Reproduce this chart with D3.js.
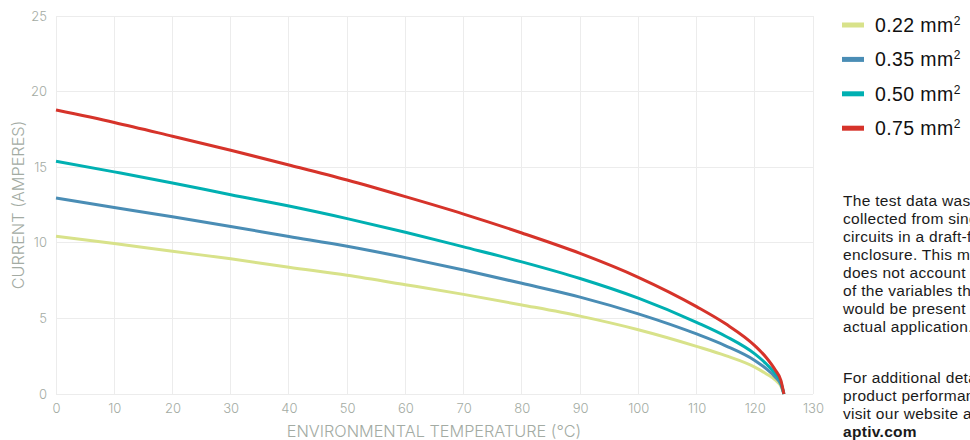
<!DOCTYPE html>
<html>
<head>
<meta charset="utf-8">
<script src="https://cdn.jsdelivr.net/npm/d3@7/dist/d3.min.js"></script>
<style>
  html, body { margin: 0; padding: 0; background: #fff; overflow: hidden; }
  svg { display: block; }
</style>
</head>
<body>
<svg id="chart" width="970" height="440"></svg>
<script>
// ---- data ----
const temps = [0, 10, 20, 30, 40, 50, 60, 70, 80, 90, 100, 110, 115, 120, 122, 123.5, 124.5, 125];
const series = ["0.22 mm", "0.35 mm", "0.50 mm", "0.75 mm"];
const current022 = [10.44, 9.95, 9.44, 8.94, 8.38, 7.85, 7.23, 6.59, 5.89, 5.15, 4.25, 3.15, 2.54, 1.78, 1.33, 0.93, 0.5, 0];
const current035 = [12.96, 12.34, 11.72, 11.08, 10.42, 9.77, 9.02, 8.2, 7.32, 6.41, 5.3, 3.97, 3.19, 2.22, 1.66, 1.13, 0.62, 0];
const current050 = [15.4, 14.69, 13.96, 13.18, 12.43, 11.6, 10.7, 9.73, 8.74, 7.64, 6.34, 4.74, 3.82, 2.65, 1.98, 1.35, 0.74, 0];
const current075 = [18.78, 17.96, 17.05, 16.12, 15.15, 14.15, 13.05, 11.9, 10.65, 9.3, 7.72, 5.78, 4.64, 3.2, 2.4, 1.6, 0.88, 0];
const xTicks = [0, 10, 20, 30, 40, 50, 60, 70, 80, 90, 100, 110, 120, 130];
const yTicks = [0, 5, 10, 15, 20, 25];
const colors = ["#d8e28a", "#4a8db5", "#00b0b2", "#d6332a"];
const noteLines1 = ["The test data was", "collected from single", "circuits in a draft-free", "enclosure. This model", "does not account for all", "of the variables that", "would be present in an", "actual application."];
const noteLines2 = ["For additional details on", "product performance,", "visit our website at"];
const noteLink = "aptiv.com";

const allSeries = [current022, current035, current050, current075];

// ---- layout ----
const svg = d3.select("#chart");
const x = d3.scaleLinear().domain([0, 130]).range([56, 813]);
const y = d3.scaleLinear().domain([0, 25]).range([394, 16]);
const tickColor = "#a3aba3";
const font = "Inter, 'Liberation Sans', sans-serif";
const textFont = "'Liberation Sans', Arial, sans-serif";

// grid
svg.append("g").selectAll("line").data(xTicks).join("line")
  .attr("x1", d => x(d)).attr("x2", d => x(d))
  .attr("y1", y(0)).attr("y2", y(25))
  .attr("stroke", "#ececec").attr("stroke-width", 1).attr("shape-rendering", "crispEdges");
svg.append("g").selectAll("line").data(yTicks).join("line")
  .attr("x1", x(0)).attr("x2", x(130))
  .attr("y1", d => y(d)).attr("y2", d => y(d))
  .attr("stroke", "#ececec").attr("stroke-width", 1).attr("shape-rendering", "crispEdges");

// axes (labels only)
const xAxis = d3.axisBottom(x).tickValues(xTicks).tickSize(0).tickPadding(10);
const gx = svg.append("g").attr("transform", `translate(0,${y(0)})`).call(xAxis);
gx.select(".domain").remove();
gx.selectAll("text").attr("fill", tickColor).attr("font-size", 13).attr("font-family", font).attr("font-weight", 300);

const yAxis = d3.axisLeft(y).tickValues(yTicks).tickSize(0).tickPadding(9);
const gy = svg.append("g").attr("transform", `translate(${x(0)},0)`).call(yAxis);
gy.select(".domain").remove();
gy.selectAll("text").attr("fill", tickColor).attr("font-size", 13).attr("font-family", font).attr("font-weight", 300);

// axis titles
svg.append("text")
  .attr("x", 434).attr("y", 437)
  .attr("text-anchor", "middle")
  .attr("fill", tickColor).attr("font-size", 16.3).attr("font-family", font).attr("font-weight", 300)
  .text("ENVIRONMENTAL TEMPERATURE (°C)");
svg.append("text")
  .attr("transform", "translate(24,205) rotate(-90)")
  .attr("text-anchor", "middle")
  .attr("fill", tickColor).attr("font-size", 16.3).attr("font-family", font).attr("font-weight", 300)
  .text("CURRENT (AMPERES)");

// lines
const line = d3.line()
  .x((d, i) => x(temps[i]))
  .y(d => y(d))
  .curve(d3.curveMonotoneX);
svg.append("g").selectAll("path").data(allSeries).join("path")
  .attr("d", d => line(d))
  .attr("fill", "none")
  .attr("stroke", (d, i) => colors[i])
  .attr("stroke-width", 3)
  .attr("stroke-linejoin", "round");

// legend
const legend = svg.append("g").selectAll("g").data(series).join("g")
  .attr("transform", (d, i) => `translate(842,${25 + i * 34.4})`);
legend.append("rect")
  .attr("x", 0).attr("y", -2.5).attr("width", 22).attr("height", 5)
  .attr("fill", (d, i) => colors[i]);
const lt = legend.append("text")
  .attr("x", 33).attr("y", 7)
  .attr("font-size", 19.5).attr("letter-spacing", 0.4).attr("font-family", textFont)
  .attr("fill", "#111");
lt.append("tspan").text(d => d);
lt.append("tspan").attr("dy", -7).attr("font-size", 12).text("2");

// note text
const note = svg.append("g").attr("font-family", textFont)
  .attr("font-size", 15.5).attr("letter-spacing", 0.3).attr("fill", "#1a1a1a");
note.selectAll("text.a").data(noteLines1).join("text").attr("class", "a")
  .attr("x", 843).attr("y", (d, i) => 205.7 + i * 18.1).text(d => d);
note.selectAll("text.b").data(noteLines2).join("text").attr("class", "b")
  .attr("x", 843).attr("y", (d, i) => 383.3 + i * 18).text(d => d);
note.append("text").attr("x", 843).attr("y", 383.3 + 3 * 17.8)
  .attr("font-weight", "bold").text(noteLink);
</script>
</body>
</html>
